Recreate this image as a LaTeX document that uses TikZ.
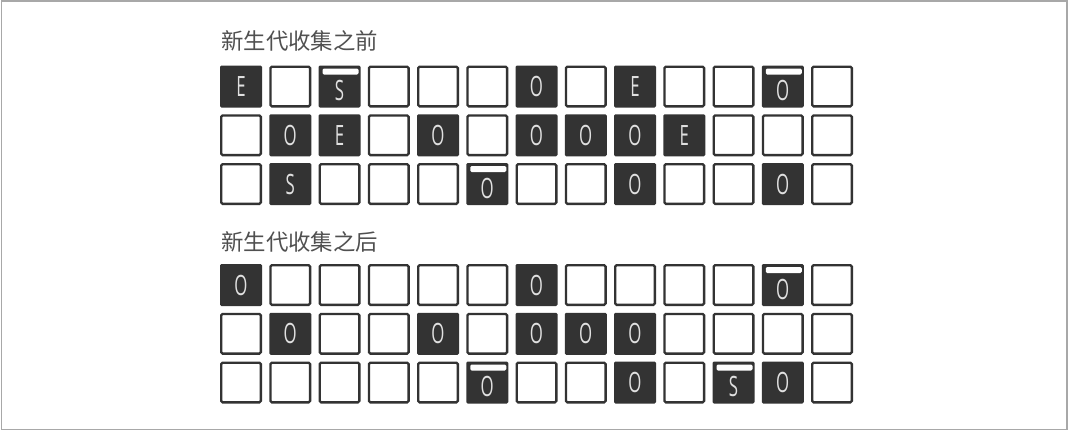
\documentclass[tikz,border=0pt]{standalone}
\usepackage{fontspec}
\setmainfont{Open Sans}
\newfontfamily\cjkfont{Noto Sans CJK SC}

\definecolor{cellgray}{HTML}{333333}
\definecolor{lettergray}{HTML}{E0E0E0}
\definecolor{titlegray}{HTML}{505050}
\definecolor{framegray}{HTML}{A8A8A8}

\newcommand{\cletter}[1]{\scalebox{0.6}[1]{#1}}
\newcommand{\cellrow}[3]{%
	\foreach \s/\l [count=\c from 0] in {#3}
		\node[\s] (#1-\c) at (241+49.25*\c,#2) {\cletter{\l}};
}

\tikzset{
	cell/.style={minimum width=31.5pt, minimum height=31.5pt, inner sep=0pt, rounded corners=1pt},
	ec/.style={cell, minimum width=29.7pt, minimum height=29.7pt, draw=cellgray, line width=1.8pt, fill=white},
	dc/.style={cell, fill=cellgray, text=lettergray, font=\fontsize{21}{21}\selectfont, text height=15pt, text depth=0pt},
	bc/.style={dc, text height=21pt, path picture={
		\fill[white] ([xshift=3pt,yshift=-2.25pt]path picture bounding box.north west)
			rectangle ([xshift=-1.5pt,yshift=-6.75pt]path picture bounding box.north east);}},
	title/.style={anchor=base west, inner sep=0pt, text=titlegray, font=\cjkfont\fontsize{16.8}{17}\selectfont},
}

\begin{document}
\begin{tikzpicture}[x=0.75pt,y=-0.75pt]
	\useasboundingbox (0,0) rectangle (1070,432);
	\draw[framegray, line width=1.2pt] (1.5,1) rectangle (1067,429.5);
	\node[title] (before) at (221,49.5) {新生代收集之前};
	\cellrow{b0}{86.5}{dc/E,ec/,bc/S,ec/,ec/,ec/,dc/O,ec/,dc/E,ec/,ec/,bc/O,ec/}
	\cellrow{b1}{135.25}{ec/,dc/O,dc/E,ec/,dc/O,ec/,dc/O,dc/O,dc/O,dc/E,ec/,ec/,ec/}
	\cellrow{b2}{184}{ec/,dc/S,ec/,ec/,ec/,bc/O,ec/,ec/,dc/O,ec/,ec/,dc/O,ec/}
	\node[title] (after) at (221,250.5) {新生代收集之后};
	\cellrow{a0}{285}{dc/O,ec/,ec/,ec/,ec/,ec/,dc/O,ec/,ec/,ec/,ec/,bc/O,ec/}
	\cellrow{a1}{333.75}{ec/,dc/O,ec/,ec/,dc/O,ec/,dc/O,dc/O,dc/O,ec/,ec/,ec/,ec/}
	\cellrow{a2}{382.5}{ec/,ec/,ec/,ec/,ec/,bc/O,ec/,ec/,dc/O,ec/,bc/S,dc/O,ec/}
\end{tikzpicture}
\end{document}
